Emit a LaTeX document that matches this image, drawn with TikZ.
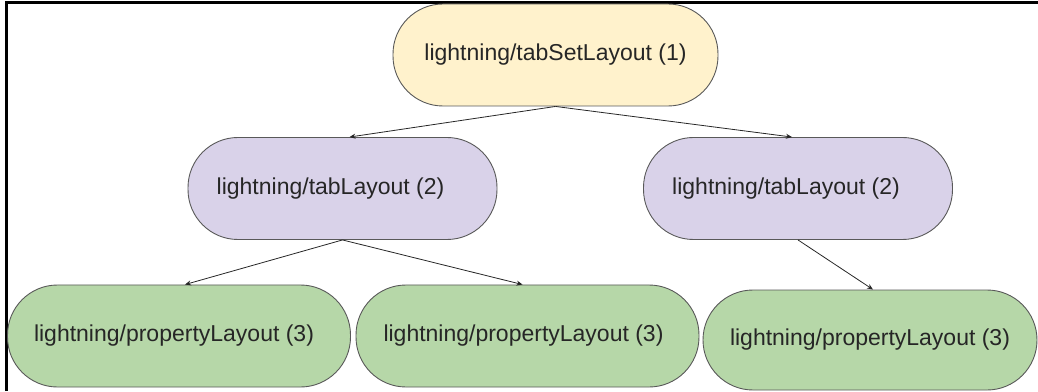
\documentclass[tikz,border=0pt]{standalone}
\usepackage{fontspec}
\setmainfont{Liberation Sans}
\usetikzlibrary{arrows.meta}
\definecolor{tabsetfill}{HTML}{FFF2CC}
\definecolor{tabfill}{HTML}{D9D2E9}
\definecolor{propfill}{HTML}{B6D7A8}
\definecolor{edgegray}{HTML}{595959}
\definecolor{textgray}{HTML}{262626}
\tikzset{
  pill/.style={draw=edgegray, line width=0.9pt, rounded corners=50pt,
    minimum height=102pt, inner sep=0pt, text=textgray,
    font=\fontsize{23}{27}\selectfont},
  tabset/.style={pill, fill=tabsetfill, minimum width=325pt},
  tab/.style={pill, fill=tabfill, minimum width=309pt},
  prop/.style={pill, fill=propfill, minimum width=343pt},
  link/.style={draw=black!85, line width=0.8pt,
    -{Stealth[length=6pt,width=5pt]}},
  frame/.style={draw=black, line width=2.6pt}
}
\begin{document}
\begin{tikzpicture}[x=1pt,y=1pt]
  \useasboundingbox (0,0) rectangle (1038,391);
  % outer frame (left and top edges)
  \draw[frame] (6.5,0) -- (6.5,388.5) -- (1038,388.5);

  % level 1
  \node[tabset] (root) at (555.5,336) {lightning/tabSetLayout (1)};
  % level 2
  \node[tab] (tabA) at (342.5,202.5) {\hspace*{-24pt}lightning/tabLayout (2)};
  \node[tab] (tabB) at (798,202.5) {\hspace*{-24pt}lightning/tabLayout (2)};
  % level 3
  \node[prop] (propA) at (179,55) {\hspace*{-10pt}lightning/propertyLayout (3)};
  \node[prop] (propB) at (527.5,55) {\hspace*{-8pt}lightning/propertyLayout (3)};
  \node[prop, minimum width=334pt, minimum height=100pt] (propC) at (870,51)
    {lightning/propertyLayout (3)};

  % connectors
  \draw[link] (root.south) -- ([xshift=7pt]tabA.north);
  \draw[link] (root.south) -- ([xshift=-6pt]tabB.north);
  \draw[link] (tabA.south) -- ([xshift=6pt]propA.north);
  \draw[link] (tabA.south) -- ([xshift=-5pt]propB.north);
  \draw[link] (tabB.south) -- ([xshift=3pt]propC.north);
\end{tikzpicture}
\end{document}
